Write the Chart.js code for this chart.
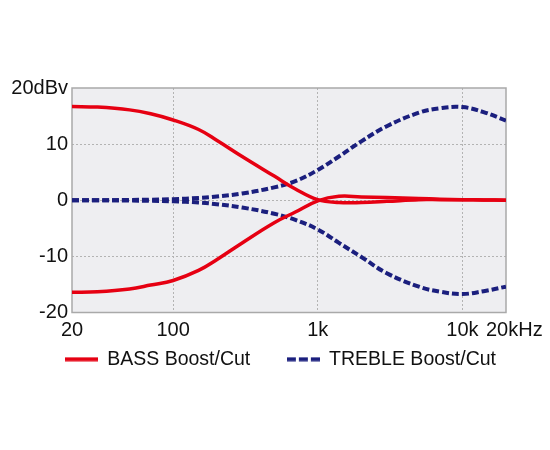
<!DOCTYPE html>
<html>
<head>
<meta charset="utf-8">
<script src="https://cdn.jsdelivr.net/npm/chart.js@4.4.1/dist/chart.umd.min.js"></script>
<style>
  html, body { margin: 0; padding: 0; background: #fff; }
  #wrap { width: 550px; height: 450px; position: relative; }
</style>
</head>
<body>
<div id="wrap"><canvas id="eqChart"></canvas></div>
<script>
// Frequencies (Hz) sampled along the curves
const freqs = [20, 30, 50, 70, 100, 150, 200, 300, 500, 700, 1000, 1400, 2000, 3000, 5000, 7000, 10000, 14000, 20000];

// Response values (dBv)
const bassBoost   = [16.7, 16.6, 16.1, 15.4, 14.3, 12.6, 10.7, 7.8, 4.3, 2.0, 0.1, -0.4, -0.4, -0.2, 0.1, 0.1, 0.1, 0.05, 0];
const bassCut     = [-16.4, -16.3, -15.8, -15.1, -14.3, -12.5, -10.6, -7.6, -4.0, -2.1, -0.1, 0.7, 0.6, 0.5, 0.3, 0.2, 0.1, 0.05, 0];
const trebleBoost = [0, 0, 0.05, 0.1, 0.2, 0.4, 0.65, 1.2, 2.3, 3.4, 5.4, 7.8, 10.5, 13.2, 15.6, 16.4, 16.6, 15.7, 14.2];
const trebleCut   = [0, 0, -0.05, -0.1, -0.2, -0.4, -0.7, -1.3, -2.4, -3.5, -5.2, -7.6, -10.1, -13.0, -15.4, -16.3, -16.7, -16.2, -15.4];

// Axis ticks
const xTicks = [20, 100, 1000, 10000, 20000];
const xTickLabels = ['20', '100', '1k', '10k', '   20kHz'];
const yTicks = [-20, -10, 0, 10, 20];
const yTickLabels = ['-20', '-10', '0', '10', '20dBv'];

const seriesLabels = ['BASS Boost/Cut', 'TREBLE Boost/Cut'];

const RED = '#e60012';
const BLUE = '#1b1f7e';
const FONT = '"Liberation Sans", Arial, sans-serif';

const toPoints = (arr) => freqs.map((f, i) => ({ x: f, y: arr[i] }));

// small legend swatches (solid / dashed line)
const makeSwatch = (color, width, dash) => {
    const c = document.createElement('canvas');
    c.width = 33;
    c.height = 5;
    const g = c.getContext('2d');
    g.strokeStyle = color;
    g.lineWidth = width;
    g.setLineDash(dash);
    g.beginPath();
    g.moveTo(0, 2.5);
    g.lineTo(33, 2.5);
    g.stroke();
    return c;
};
const redSwatch = makeSwatch(RED, 4, []);
const blueSwatch = makeSwatch(BLUE, 4, [9, 3]);

// Plot background and frame
const plotFrame = {
    id: 'plotFrame',
    beforeDraw(chart) {
        const { ctx, chartArea: a } = chart;
        ctx.save();
        ctx.fillStyle = '#eeeef1';
        ctx.fillRect(a.left, a.top, a.right - a.left, a.bottom - a.top);
        ctx.restore();
    },
    beforeDatasetsDraw(chart) {
        const { ctx, chartArea: a } = chart;
        ctx.save();
        ctx.strokeStyle = '#a9a9a9';
        ctx.lineWidth = 1.5;
        ctx.strokeRect(a.left, a.top, a.right - a.left, a.bottom - a.top);
        ctx.restore();
    }
};

const lineBase = {
    pointRadius: 0,
    fill: false,
    tension: 0.4
};

const ctx = document.getElementById('eqChart').getContext('2d');

new Chart(ctx, {
    type: 'line',
    data: {
        datasets: [
            { ...lineBase, label: seriesLabels[0] + '     ', data: toPoints(bassBoost), borderColor: RED, backgroundColor: RED, borderWidth: 3.5, pointStyle: redSwatch },
            { ...lineBase, label: seriesLabels[0], data: toPoints(bassCut), borderColor: RED, backgroundColor: RED, borderWidth: 3.5 },
            { ...lineBase, label: seriesLabels[1], data: toPoints(trebleBoost), borderColor: BLUE, backgroundColor: BLUE, borderWidth: 4, borderDash: [7, 3], pointStyle: blueSwatch },
            { ...lineBase, label: seriesLabels[1], data: toPoints(trebleCut), borderColor: BLUE, backgroundColor: BLUE, borderWidth: 4, borderDash: [7, 3] }
        ]
    },
    options: {
        responsive: true,
        maintainAspectRatio: false,
        animation: false,
        layout: {
            padding: { top: 88, left: 4, right: 44, bottom: 71 }
        },
        scales: {
            x: {
                type: 'logarithmic',
                min: 20,
                max: 20000,
                afterBuildTicks: (s) => { s.ticks = xTicks.map(v => ({ value: v })); },
                afterFit: (s) => { s.height = 27; },
                ticks: {
                    autoSkip: false,
                    maxRotation: 0,
                    padding: 6,
                    color: '#111',
                    font: { family: FONT, size: 20 },
                    callback: (value, index) => xTickLabels[index]
                },
                grid: {
                    drawTicks: false,
                    lineWidth: 1,
                    color: (c) => (c.tick && (c.tick.value === 20 || c.tick.value === 20000)) ? 'rgba(0,0,0,0)' : '#b3b3b3'
                },
                border: { display: false, dash: [2, 2] }
            },
            y: {
                min: -20,
                max: 20,
                afterBuildTicks: (s) => { s.ticks = yTicks.map(v => ({ value: v })); },
                afterFit: (s) => { s.width = 68; },
                ticks: {
                    autoSkip: false,
                    padding: 4,
                    color: '#111',
                    font: { family: FONT, size: 20 },
                    callback: (value, index) => yTickLabels[index]
                },
                grid: {
                    drawTicks: false,
                    lineWidth: 1,
                    color: (c) => (c.tick && Math.abs(c.tick.value) === 20) ? 'rgba(0,0,0,0)' : '#b3b3b3'
                },
                border: { display: false, dash: [2, 2] }
            }
        },
        plugins: {
            tooltip: { enabled: false },
            legend: {
                position: 'bottom',
                align: 'end',
                labels: {
                    filter: (item) => item.datasetIndex === 0 || item.datasetIndex === 2,
                    usePointStyle: true,
                    pointStyleWidth: 32,
                    padding: 10,
                    color: '#111',
                    font: { family: FONT, size: 19.5 }
                }
            }
        }
    },
    plugins: [plotFrame]
});
</script>
</body>
</html>
